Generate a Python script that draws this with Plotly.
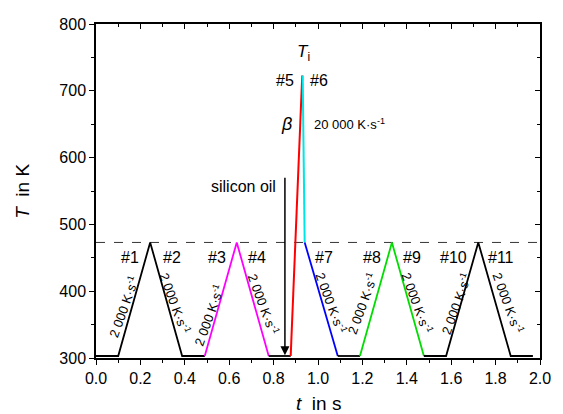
import plotly.graph_objects as go

# ---- data ----
room_T = 303
hold_T = 473
peak_T = 723

black1_t = [0.0, 0.10, 0.244, 0.388, 0.49]
black1_T = [room_T, room_T, hold_T, room_T, room_T]
magenta_t = [0.49, 0.634, 0.778]
magenta_T = [room_T, hold_T, room_T]
black2_t = [0.778, 0.877]
black2_T = [room_T, room_T]
red_t = [0.877, 0.929]
red_T = [room_T, peak_T]
cyan_t = [0.931, 0.940]
cyan_T = [peak_T, hold_T]
blue_t = [0.940, 1.089]
blue_T = [hold_T, room_T]
black3_t = [1.089, 1.189]
black3_T = [room_T, room_T]
green_t = [1.189, 1.333, 1.477]
green_T = [room_T, hold_T, room_T]
black4_t = [1.477, 1.577, 1.722, 1.868, 1.968]
black4_T = [room_T, room_T, hold_T, room_T, room_T]

dash_t = [0.0, 2.0]
dash_T = [hold_T, hold_T]

seg_labels = ["#1", "#2", "#3", "#4", "#7", "#8", "#9", "#10", "#11"]
seg_label_t = [0.155, 0.341, 0.545, 0.723, 1.029, 1.242, 1.423, 1.610, 1.823]
seg_label_T = [451] * 9

rate_text = "2 000 K·s<sup>-1</sup>"
rate_t = [0.121, 0.356, 0.508, 0.755, 1.060, 1.199, 1.447, 1.620, 1.857]
rate_T = [377, 382, 364, 381, 382, 382, 382, 381, 382]
rate_angle = [-70, 70, -70, 70, 70, -70, 70, -70, 70]

FONT = "Liberation Sans, Arial, sans-serif"

fig = go.Figure()

def line(x, y, color, dash=None, width=1.8):
    fig.add_trace(go.Scatter(x=x, y=y, mode="lines",
                             line=dict(color=color, width=width, dash=dash),
                             showlegend=False, hoverinfo="skip"))

line(dash_t, dash_T, "black", dash="dash", width=0.8)
line(black1_t, black1_T, "black")
line(magenta_t, magenta_T, "#FF00FF")
line(black2_t, black2_T, "black")
line(red_t, red_T, "#FF0000", width=2)
line(cyan_t, cyan_T, "#00E5E5", width=2)
line(blue_t, blue_T, "#0000FF")
line(black3_t, black3_T, "black")
line(green_t, green_T, "#00DD00")
line(black4_t, black4_T, "black")

# invisible trace for mirrored (inside-tick) axes
fig.add_trace(go.Scatter(x=[0, 2], y=[300, 800], xaxis="x2", yaxis="y2",
                         mode="markers", marker=dict(opacity=0),
                         showlegend=False, hoverinfo="skip"))

ann = []
for s, t, T in zip(seg_labels, seg_label_t, seg_label_T):
    ann.append(dict(x=t, y=T, text=s, showarrow=False,
                    font=dict(size=16, color="black", family=FONT)))
for t, T, a in zip(rate_t, rate_T, rate_angle):
    ann.append(dict(x=t, y=T, text=rate_text, showarrow=False, textangle=a,
                    font=dict(size=13, color="black", family=FONT)))

ann += [
    dict(x=0.935, y=757, text="<i>T</i><sub>i</sub>", showarrow=False,
         font=dict(size=17, color="black", family=FONT)),
    dict(x=0.90, y=716, text="#5", showarrow=False, xanchor="right",
         font=dict(size=16, color="black", family=FONT)),
    dict(x=0.954, y=716, text="#6", showarrow=False, xanchor="left",
         font=dict(size=16, color="black", family=FONT)),
    dict(x=0.858, y=651, text="<i>β</i>", showarrow=False,
         font=dict(size=18, color="black", family=FONT)),
    dict(x=0.975, y=651, text="20 000 K·s<sup>-1</sup>", showarrow=False,
         xanchor="left", font=dict(size=13, color="black", family=FONT)),
    dict(x=0.822, y=557, text="silicon oil", showarrow=False, xanchor="right",
         font=dict(size=16, color="black", family=FONT)),
    dict(x=0.851, y=304, ax=0.851, ay=572, axref="x", ayref="y",
         xref="x", yref="y", text="", showarrow=True, arrowhead=2,
         arrowsize=1.2, arrowwidth=1.5, arrowcolor="black"),
    dict(x=0.5, y=-0.135, xref="paper", yref="paper",
         xanchor="center", yanchor="middle",
         text="<i>t</i>  in s", showarrow=False,
         font=dict(size=19, color="black", family=FONT)),
    dict(x=-0.167, y=0.5, xref="paper", yref="paper", textangle=-90,
         xanchor="center", yanchor="middle",
         text="<i>T</i>  in K", showarrow=False,
         font=dict(size=19, color="black", family=FONT)),
]

axis_common = dict(showgrid=False, zeroline=False, showline=True,
                   linecolor="black", linewidth=1.5,
                   tickcolor="black", tickwidth=1.2,
                   tickfont=dict(size=16, color="black", family=FONT))

fig.update_layout(
    width=563, height=414,
    margin=dict(l=96, r=13, t=24, b=56),
    paper_bgcolor="white", plot_bgcolor="white",
    annotations=ann,
    xaxis=dict(range=[0, 2], dtick=0.2, tickformat=".1f", ticks="outside",
               ticklen=5, minor=dict(dtick=0.1, ticks="outside", ticklen=3,
                                     tickcolor="black"),
               **axis_common),
    yaxis=dict(range=[300, 800], dtick=100, ticks="outside", ticklen=5,
               minor=dict(dtick=50, ticks="outside", ticklen=3,
                          tickcolor="black"),
               **axis_common),
    xaxis2=dict(overlaying="x", side="top", anchor="y2", matches="x",
                range=[0, 2], dtick=0.2, ticks="inside", ticklen=5,
                showticklabels=False,
                minor=dict(dtick=0.1, ticks="inside", ticklen=3,
                           tickcolor="black"),
                **axis_common),
    yaxis2=dict(overlaying="y", side="right", anchor="x2", matches="y",
                range=[300, 800], dtick=100, ticks="inside", ticklen=5,
                showticklabels=False,
                minor=dict(dtick=50, ticks="inside", ticklen=3,
                           tickcolor="black"),
                **axis_common),
)

fig.write_html("out.html")
